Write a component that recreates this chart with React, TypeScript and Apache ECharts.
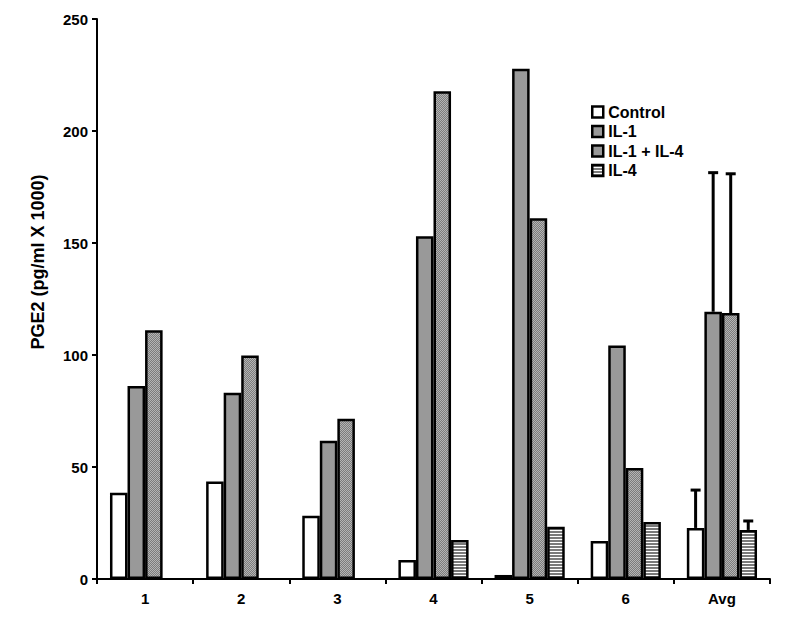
import React, { useEffect, useRef } from "react";
import * as echarts from "echarts";

const categories = ["1", "2", "3", "4", "5", "6", "Avg"];
const seriesNames = ["Control", "IL-1", "IL-1 + IL-4", "IL-4"];
const controlValues = [38.5, 43.5, 28.2, 8.5, 1.8, 17, 22.8];
const il1Values = [86.2, 83.2, 61.7, 153, 227.8, 104.2, 119.3];
const il1il4Values = [111, 99.8, 71.5, 217.8, 161, 49.5, 118.7];
const il4Values = [null, null, null, 17.4, 23.3, 25.4, 21.9];
const avgErrors = [16.9, 62.1, 62.2, 4];
const yTicks = [0, 50, 100, 150, 200, 250];
const yTitle = "PGE2 (pg/ml X 1000)";

const FONT = "Liberation Sans, Arial, sans-serif";
const CAT_GAP = 0.27;

function makePattern(kind: string): HTMLCanvasElement {
  const c = document.createElement("canvas");
  if (kind === "dots") {
    c.width = 2;
    c.height = 2;
    const ctx = c.getContext("2d")!;
    ctx.fillStyle = "#7c7c7c";
    ctx.fillRect(0, 0, 2, 2);
    ctx.fillStyle = "#b4b4b4";
    ctx.fillRect(0, 0, 1, 1);
    ctx.fillRect(1, 1, 1, 1);
  } else {
    c.width = 4;
    c.height = 3;
    const ctx = c.getContext("2d")!;
    ctx.fillStyle = "#ffffff";
    ctx.fillRect(0, 0, 4, 3);
    ctx.fillStyle = "#7a7a7a";
    ctx.fillRect(0, 0, 4, 2);
  }
  return c;
}

export default function App() {
  const ref = useRef<HTMLDivElement>(null);
  useEffect(() => {
    if (!ref.current) return;
    const chart = echarts.init(ref.current, null, { renderer: "svg" });
    const colors: any[] = [
      "#ffffff",
      "#999999",
      { image: makePattern("dots"), repeat: "repeat" },
      { image: makePattern("stripes"), repeat: "repeat" },
    ];
    const valueSets: any[][] = [controlValues, il1Values, il1il4Values, il4Values];
    const barSeries = seriesNames.map((name, i) => ({
      name,
      type: "bar",
      data: valueSets[i].map((v) => (v === null ? "-" : v)),
      barGap: "0%",
      barCategoryGap: CAT_GAP * 100 + "%",
      itemStyle: { color: colors[i], borderColor: "#000", borderWidth: 2.5 },
    }));
    const last = categories.length - 1;
    const errData = avgErrors.map((e, i) => [last, valueSets[i][last], e, i]);
    const option: any = {
      animation: false,
      grid: { left: 97, right: 30, top: 19, bottom: 63 },
      legend: {
        orient: "vertical",
        left: 586,
        top: 99,
        itemWidth: 11,
        itemHeight: 11,
        itemGap: 3.5,
        icon: "rect",
        data: seriesNames,
        itemStyle: { borderColor: "#000", borderWidth: 2.5 },
        textStyle: { fontFamily: FONT, fontWeight: "bold", fontSize: 16, color: "#000" },
      },
      xAxis: {
        type: "category",
        data: categories,
        axisLine: { lineStyle: { color: "#000", width: 2 } },
        axisTick: { show: true, length: 5, lineStyle: { color: "#000", width: 2 } },
        axisLabel: { fontFamily: FONT, fontWeight: "bold", fontSize: 15, color: "#000", margin: 12 },
      },
      yAxis: {
        type: "value",
        min: yTicks[0],
        max: yTicks[yTicks.length - 1],
        interval: 50,
        splitLine: { show: false },
        axisLine: { show: true, lineStyle: { color: "#000", width: 2 } },
        axisTick: { show: true, length: 5, lineStyle: { color: "#000", width: 2 } },
        axisLabel: { fontFamily: FONT, fontWeight: "bold", fontSize: 15, color: "#000", margin: 9 },
      },
      graphic: [
        {
          type: "text",
          x: 38,
          y: 262,
          rotation: Math.PI / 2,
          style: {
            text: yTitle,
            textAlign: "center",
            textVerticalAlign: "middle",
            font: "bold 18px " + FONT,
            fill: "#000",
          },
        },
      ],
      series: [
        ...barSeries,
        {
          type: "custom",
          name: "err",
          z: 1,
          data: errData,
          renderItem: (params: any, api: any) => {
            const cat = api.value(0);
            const val = api.value(1);
            const err = api.value(2);
            const idx = api.value(3);
            const band = api.size([1, 0])[0];
            const bw = (band * (1 - CAT_GAP)) / 4;
            const base = api.coord([cat, val]);
            const x = base[0] - 2 * bw + (idx + 0.5) * bw;
            const top = api.coord([cat, val + err])[1];
            const style = { stroke: "#000", lineWidth: 3 };
            return {
              type: "group",
              children: [
                { type: "line", shape: { x1: x, y1: base[1], x2: x, y2: top }, style },
                { type: "line", shape: { x1: x - 5, y1: top, x2: x + 5, y2: top }, style },
              ],
            };
          },
        },
      ],
    };
    chart.setOption(option);
    return () => chart.dispose();
  }, []);
  return (
    <div
      ref={ref}
      style={{ position: "fixed", left: 0, top: 0, width: 800, height: 642, background: "#fff" }}
    />
  );
}
